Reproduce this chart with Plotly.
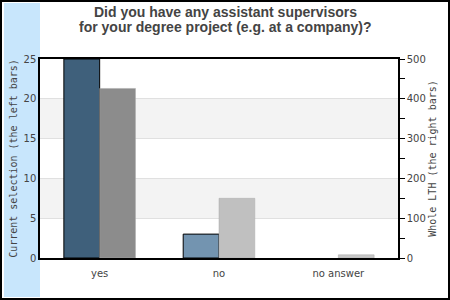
import plotly.graph_objects as go

categories = ["yes", "no", "no answer"]
current_selection = [25, 3, 0]
whole_lth = [426, 150, 8]
left_colors = ["#3f607b", "#7394b0", "#a9bfd2"]
right_colors = ["#8c8c8c", "#c0c0c0", "#c8c8c8"]

W, H = 450, 300
ml, mr, mt, mb = 40, 52, 59, 42
pw, ph = W - ml - mr, H - mt - mb

def px(x):
    return (x - ml) / pw

def py(y):
    return (H - mb - y) / ph

left_line_w = [1 if v > 0 else 0 for v in current_selection]

fig = go.Figure()
fig.add_trace(go.Bar(x=categories, y=current_selection, yaxis="y", offsetgroup="a",
                     marker=dict(color=left_colors, line=dict(color="black", width=left_line_w)),
                     showlegend=False))
fig.add_trace(go.Bar(x=categories, y=whole_lth, yaxis="y2", offsetgroup="b",
                     marker=dict(color=right_colors, line=dict(color="#a8a8a8", width=0.5)),
                     showlegend=False))

shapes = [
    dict(type="rect", xref="paper", yref="paper", x0=px(4), x1=px(40), y0=py(297), y1=py(3),
         fillcolor="#c8e6fc", line=dict(width=0), layer="below"),
    dict(type="rect", xref="paper", yref="y", x0=0, x1=1, y0=15, y1=20,
         fillcolor="#f3f3f3", line=dict(width=0), layer="below"),
    dict(type="rect", xref="paper", yref="y", x0=0, x1=1, y0=5, y1=10,
         fillcolor="#f3f3f3", line=dict(width=0), layer="below"),
    dict(type="rect", xref="paper", yref="paper", x0=px(1), x1=px(449), y0=py(299), y1=py(1),
         fillcolor="rgba(0,0,0,0)", line=dict(color="black", width=2)),
]

annotations = [
    dict(text="<b>Did you have any assistant supervisors</b>", xref="paper", yref="paper",
         x=px(225), y=py(12.5), xanchor="center", yanchor="middle", showarrow=False,
         font=dict(family="Liberation Sans, Arial", size=14, color="#444444")),
    dict(text="<b>for your degree project (e.g. at a company)?</b>", xref="paper", yref="paper",
         x=px(225), y=py(27.5), xanchor="center", yanchor="middle", showarrow=False,
         font=dict(family="Liberation Sans, Arial", size=14, color="#444444")),
]

tickfont = dict(family="DejaVu Sans", size=10, color="#444444")
titlefont = dict(family="DejaVu Sans Mono", size=10, color="#444444")

fig.update_layout(
    width=W, height=H, margin=dict(l=ml, r=mr, t=mt, b=mb),
    paper_bgcolor="white", plot_bgcolor="white",
    barmode="group", bargap=0.4, bargroupgap=0,
    shapes=shapes, annotations=annotations,
    xaxis=dict(showline=True, linecolor="black", linewidth=1.5, mirror=True,
               tickfont=tickfont, ticks="", showgrid=False, fixedrange=True,
               ticklabelstandoff=5),
    yaxis=dict(range=[0, 25], dtick=5, showgrid=True, gridcolor="#e0e0e0", gridwidth=1,
               showline=True, linecolor="black", linewidth=1.5, ticks="",
               tickfont=tickfont, zeroline=False,
               title=dict(text="Current selection (the left bars)", font=titlefont, standoff=4)),
    yaxis2=dict(range=[0, 500], dtick=100, overlaying="y", side="right", showgrid=False,
                showline=True, linecolor="black", linewidth=1.5, ticks="outside", ticklen=5,
                tickcolor="black", tickfont=tickfont, zeroline=False,
                minor=dict(dtick=50, ticks="outside", ticklen=5, tickcolor="black"),
                title=dict(text="Whole LTH (the right bars)", font=titlefont, standoff=4)),
)

fig.write_html("out.html")
